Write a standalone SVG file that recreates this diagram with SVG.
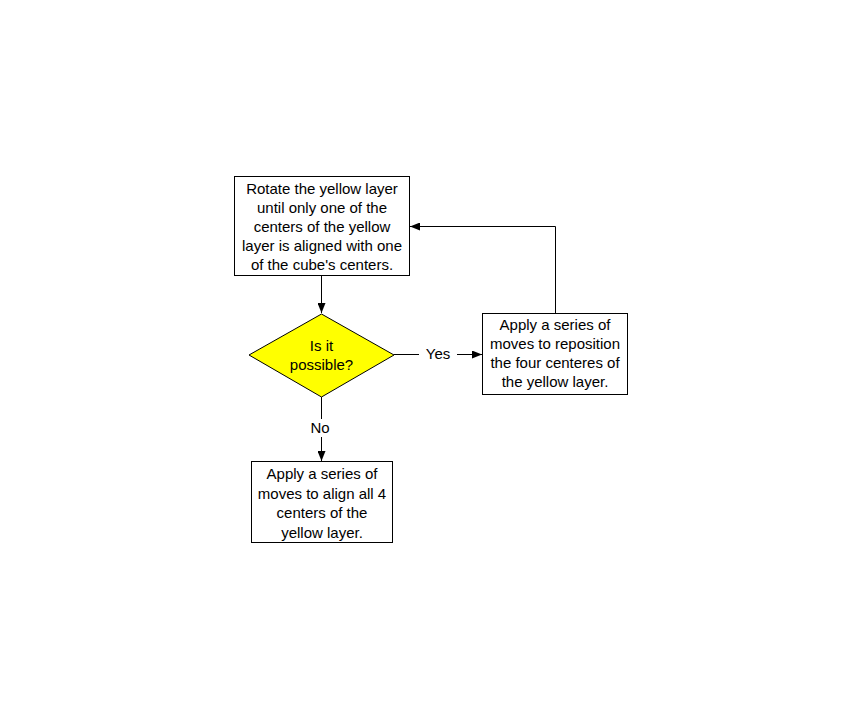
<svg xmlns="http://www.w3.org/2000/svg" width="862" height="719" viewBox="0 0 862 719">
<defs>
<style>
.box{fill:#fff;stroke:#000;stroke-width:1}
.dia{fill:#ffff00;stroke:#000;stroke-width:1}
.t{font-family:"Liberation Sans",Arial,sans-serif;font-size:15px;fill:#000;text-anchor:middle}
.ln{fill:none;stroke:#000;stroke-width:1}
</style>
<marker id="ah" markerWidth="10" markerHeight="8" refX="10" refY="4" orient="auto" markerUnits="userSpaceOnUse">
<path d="M0,0 L10,4 L0,8 Z" fill="#000"/>
</marker>
</defs>
<rect width="862" height="719" fill="#fff"/>
<g id="connectors">
<path class="ln" d="M321.5,276 L321.5,313" marker-end="url(#ah)"/>
<path class="ln" d="M394,354.5 L419,354.5"/>
<path class="ln" d="M457,354.5 L482,354.5" marker-end="url(#ah)"/>
<path class="ln" d="M555.5,313 L555.5,226.5 L410,226.5" marker-end="url(#ah)"/>
<path class="ln" d="M321.5,397 L321.5,419"/>
<path class="ln" d="M321.5,437 L321.5,461" marker-end="url(#ah)"/>
<text class="t" x="438" y="359">Yes</text>
<text class="t" x="320" y="433">No</text>
</g>
<g id="rotate">
<rect class="box" x="234.5" y="176.5" width="175" height="99"/>
<text class="t" x="322" y="194">Rotate the yellow layer</text>
<text class="t" x="322" y="213">until only one of the</text>
<text class="t" x="322" y="232">centers of the yellow</text>
<text class="t" x="322" y="251">layer is aligned with one</text>
<text class="t" x="322" y="270">of the cube's centers.</text>
</g>
<g id="decision">
<polygon class="dia" points="249,355 321.5,314 394,355 321.5,397"/>
<text class="t" x="321.5" y="350.5">Is it</text>
<text class="t" x="321.5" y="370">possible?</text>
</g>
<g id="reposition">
<rect class="box" x="482.5" y="313.5" width="145" height="81"/>
<text class="t" x="555" y="330">Apply a series of</text>
<text class="t" x="555" y="349">moves to reposition</text>
<text class="t" x="555" y="368">the four centeres of</text>
<text class="t" x="555" y="387">the yellow layer.</text>
</g>
<g id="align">
<rect class="box" x="251.5" y="461.5" width="141" height="81"/>
<text class="t" x="322" y="479">Apply a series of</text>
<text class="t" x="322" y="498.5">moves to align all 4</text>
<text class="t" x="322" y="518">centers of the</text>
<text class="t" x="322" y="537.5">yellow layer.</text>
</g>
</svg>
